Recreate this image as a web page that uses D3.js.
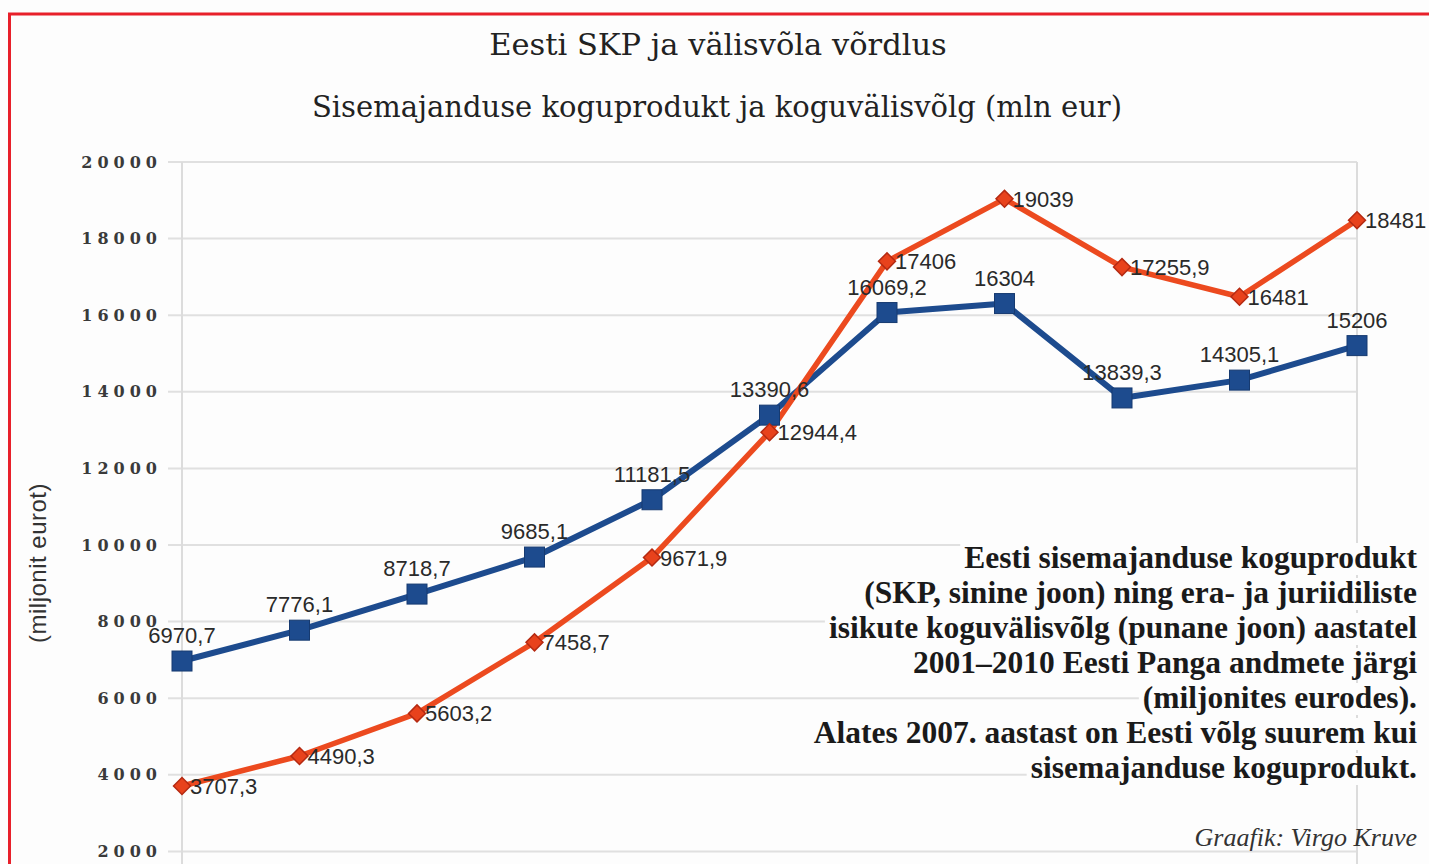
<!DOCTYPE html>
<html lang="et">
<head>
  <meta charset="utf-8">
  <title>Eesti SKP ja välisvõla võrdlus</title>
  <style>
    html, body { margin: 0; padding: 0; background: #fdfdfd; overflow: hidden; }
    svg { display: block; }
    .tick-label { font-family: "DejaVu Serif", serif; font-weight: bold; fill: #3a3a3a; }
    .val { font-family: "Liberation Sans", Arial, sans-serif; font-size: 22px; fill: #2a2a2a; }
    .caption { font-family: "Liberation Serif", "Times New Roman", serif; font-weight: bold; font-size: 31.5px; fill: #1a1a1a; }
    .title { font-family: "DejaVu Serif", serif; fill: #222; }
  </style>
</head>
<body>
<div id="chart"></div>
<script src="https://d3js.org/d3.v7.min.js"></script>
<script>
// data (mln eur)
const years = ["2000", "2001", "2002", "2003", "2004", "2005", "2006", "2007", "2008", "2009", "2010"];
const skp = [6970.7, 7776.1, 8718.7, 9685.1, 11181.5, 13390.6, 16069.2, 16304, 13839.3, 14305.1, 15206];
const vola = [3707.3, 4490.3, 5603.2, 7458.7, 9671.9, 12944.4, 17406, 19039, 17255.9, 16481, 18481];
const yTicks = [2000, 4000, 6000, 8000, 10000, 12000, 14000, 16000, 18000, 20000];
const captionLines = [
  "Eesti sisemajanduse koguprodukt",
  "(SKP, sinine joon) ning era- ja juriidiliste",
  "isikute koguvälisvõlg (punane joon) aastatel",
  "2001–2010 Eesti Panga andmete järgi",
  "(miljonites eurodes).",
  "Alates 2007. aastast on Eesti võlg suurem kui",
  "sisemajanduse koguprodukt."
];

const width = 1429, height = 864;
const fmt = v => String(v).replace(".", ",");

const svg = d3.select("#chart").append("svg")
    .attr("width", width)
    .attr("height", height);

// red frame around the whole graphic (runs off the page right and bottom)
svg.append("rect")
    .attr("x", 9.5).attr("y", 14)
    .attr("width", width + 20).attr("height", height + 20)
    .attr("fill", "#fdfdfd")
    .attr("stroke", "#e8202a")
    .attr("stroke-width", 3);

// titles
svg.append("text")
    .attr("class", "title")
    .attr("x", 718).attr("y", 55)
    .attr("text-anchor", "middle")
    .style("font-size", "30.5px")
    .text("Eesti SKP ja välisvõla võrdlus");

svg.append("text")
    .attr("class", "title")
    .attr("x", 717).attr("y", 117)
    .attr("text-anchor", "middle")
    .style("font-size", "29px")
    .text("Sisemajanduse koguprodukt ja koguvälisvõlg (mln eur)");

const x = d3.scalePoint().domain(years).range([182, 1357]);
const y = d3.scaleLinear().domain([0, 20000]).range([928, 162]);

// gridlines
svg.append("g")
    .selectAll("line")
    .data(yTicks)
    .enter().append("line")
    .attr("x1", 168).attr("x2", 1357)
    .attr("y1", d => y(d)).attr("y2", d => y(d))
    .attr("stroke", "#e0e0e0")
    .attr("stroke-width", 2);

// plot frame sides
svg.append("g")
    .selectAll("line")
    .data([years[0], years[years.length - 1]])
    .enter().append("line")
    .attr("x1", d => x(d)).attr("x2", d => x(d))
    .attr("y1", y(20000)).attr("y2", height + 10)
    .attr("stroke", "#dcdcdc")
    .attr("stroke-width", 2);

// y axis labels
const yAxis = svg.append("g")
    .attr("transform", "translate(182,0)")
    .call(d3.axisLeft(y).tickValues(yTicks).tickSize(0).tickPadding(20).tickFormat(d3.format("d")));
yAxis.select(".domain").remove();
yAxis.selectAll("text")
    .attr("class", "tick-label")
    .style("font-size", "16px")
    .style("letter-spacing", "5px");

svg.append("text")
    .attr("transform", "translate(46,563) rotate(-90)")
    .attr("text-anchor", "middle")
    .style("font-family", "'Liberation Sans', Arial, sans-serif")
    .style("font-size", "24px")
    .style("letter-spacing", "0.5px")
    .style("fill", "#333")
    .text("(miljonit eurot)");

// lines
const line = d3.line().x((d, i) => x(years[i])).y(d => y(d));

svg.append("path")
    .datum(skp)
    .attr("d", line)
    .attr("fill", "none")
    .attr("stroke", "#1d4b8e")
    .attr("stroke-width", 6)
    .attr("stroke-linejoin", "round");

svg.append("path")
    .datum(vola)
    .attr("d", line)
    .attr("fill", "none")
    .attr("stroke", "#ec4a1f")
    .attr("stroke-width", 5.5)
    .attr("stroke-linejoin", "round");

// markers
svg.append("g")
    .selectAll("rect")
    .data(skp)
    .enter().append("rect")
    .attr("x", (d, i) => x(years[i]) - 10)
    .attr("y", d => y(d) - 10)
    .attr("width", 20).attr("height", 20)
    .attr("fill", "#1d4b8e")
    .attr("stroke", "#163a70")
    .attr("stroke-width", 1);

svg.append("g")
    .selectAll("path")
    .data(vola)
    .enter().append("path")
    .attr("transform", (d, i) => `translate(${x(years[i])},${y(d)}) rotate(45)`)
    .attr("d", "M-6,-6H6V6H-6Z")
    .attr("fill", "#e8421c")
    .attr("stroke", "#b52a12")
    .attr("stroke-width", 1.5);

// value labels
svg.append("g")
    .selectAll("text")
    .data(skp)
    .enter().append("text")
    .attr("class", "val")
    .attr("x", (d, i) => x(years[i]))
    .attr("y", d => y(d) - 18)
    .attr("text-anchor", "middle")
    .text(fmt);

svg.append("g")
    .selectAll("text")
    .data(vola)
    .enter().append("text")
    .attr("class", "val")
    .attr("x", (d, i) => x(years[i]) + 8)
    .attr("y", d => y(d) + 8)
    .text(fmt);

// caption block, right aligned, with white backing
const cap = svg.append("g");
const capText = cap.selectAll("text")
    .data(captionLines)
    .enter().append("text")
    .attr("class", "caption")
    .attr("x", 1417)
    .attr("y", (d, i) => 568 + i * 35)
    .attr("text-anchor", "end")
    .text(d => d);

capText.each(function() {
  const b = this.getBBox();
  cap.insert("rect", "text")
      .attr("x", b.x - 4).attr("y", b.y + 3)
      .attr("width", b.width + 8).attr("height", b.height - 3)
      .attr("fill", "#fdfdfd");
});

svg.append("text")
    .attr("x", 1417).attr("y", 846)
    .attr("text-anchor", "end")
    .style("font-family", "'Liberation Serif', serif")
    .style("font-style", "italic")
    .style("font-size", "26px")
    .style("fill", "#333")
    .text("Graafik: Virgo Kruve");
</script>
</body>
</html>
